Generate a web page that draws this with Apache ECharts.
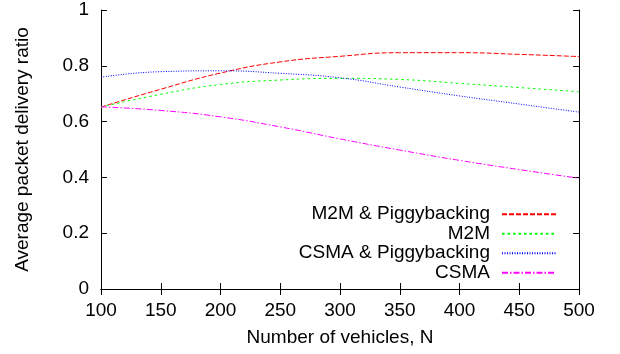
<!DOCTYPE html>
<html>
<head>
<meta charset="utf-8">
<script src="https://cdn.jsdelivr.net/npm/echarts@6/dist/echarts.min.js"></script>
<style>
  html, body { margin: 0; padding: 0; background: #fff; }
  #chart { width: 620px; height: 354px; }
</style>
</head>
<body>
<div id="chart"></div>
<script>
// Number of vehicles (x) and delivery ratio per scheme
const vehicles = [100, 150, 200, 250, 300, 350, 400, 450, 500];
const m2mPiggy  = [0.652, 0.716, 0.774, 0.814, 0.834, 0.847, 0.847, 0.841, 0.833];
const m2m       = [0.652, 0.698, 0.733, 0.749, 0.755, 0.751, 0.737, 0.722, 0.707];
const csmaPiggy = [0.759, 0.779, 0.782, 0.773, 0.757, 0.724, 0.692, 0.663, 0.634];
const csma      = [0.653, 0.640, 0.617, 0.581, 0.538, 0.498, 0.461, 0.428, 0.397];

const xTicks = { min: 100, max: 500, interval: 50 };
const yTicks = { min: 0, max: 1, interval: 0.2 };

const FONT = '"Liberation Sans", Arial, Helvetica, sans-serif';

function pairs(ys) { return vehicles.map((x, i) => [x, ys[i]]); }

function lineSeries(name, ys, color, dash) {
  return {
    name: name,
    type: 'line',
    data: pairs(ys),
    smooth: true,
    showSymbol: false,
    symbol: 'none',
    lineStyle: { color: color, width: 1, type: dash },
    itemStyle: { color: color },
    emphasis: { disabled: true },
    silent: true
  };
}

const axisLine = { show: true, lineStyle: { color: '#000', width: 1 } };
const ticks = { show: true, inside: true, length: 6, lineStyle: { color: '#000', width: 1 } };

const chart = echarts.init(document.getElementById('chart'), null, { renderer: 'canvas' });
chart.setOption({
  animation: false,
  backgroundColor: '#fff',
  grid: { left: 101, right: 41, top: 10, bottom: 65, containLabel: false },
  xAxis: [
    {
      type: 'value', position: 'bottom',
      min: xTicks.min, max: xTicks.max, interval: xTicks.interval,
      name: 'Number of vehicles, N', nameLocation: 'middle', nameGap: 39,
      nameTextStyle: { fontFamily: FONT, fontSize: 19, color: '#000' },
      axisLine: axisLine, axisTick: ticks,
      axisLabel: { fontFamily: FONT, fontSize: 19, color: '#000', margin: 12 },
      splitLine: { show: false }
    },
    {
      type: 'value', position: 'top',
      min: xTicks.min, max: xTicks.max, interval: xTicks.interval,
      axisLine: axisLine, axisTick: ticks,
      axisLabel: { show: false }, splitLine: { show: false }
    }
  ],
  yAxis: [
    {
      type: 'value', position: 'left',
      min: yTicks.min, max: yTicks.max, interval: yTicks.interval,
      name: 'Average packet delivery ratio', nameLocation: 'middle', nameGap: 69,
      nameTextStyle: { fontFamily: FONT, fontSize: 19, color: '#000' },
      axisLine: axisLine, axisTick: ticks,
      axisLabel: { fontFamily: FONT, fontSize: 19, color: '#000', margin: 12,
                   formatter: v => String(+v.toFixed(1)) },
      splitLine: { show: false }
    },
    {
      type: 'value', position: 'right',
      min: yTicks.min, max: yTicks.max, interval: yTicks.interval,
      axisLine: axisLine, axisTick: ticks,
      axisLabel: { show: false }, splitLine: { show: false }
    }
  ],
  legend: {
    orient: 'vertical',
    align: 'right',
    right: 63,
    top: 204.5,
    padding: 0,
    itemGap: 0,
    itemWidth: 54,
    itemHeight: 14,
    selectedMode: false,
    // line samples only, no marker on them
    itemStyle: { color: 'rgba(0,0,0,0)', borderWidth: 0, opacity: 0 },
    textStyle: { fontFamily: FONT, fontSize: 19, color: '#000', lineHeight: 19.5,
                 padding: [0, 7, 0, 0] },
    data: ['M2M & Piggybacking', 'M2M', 'CSMA & Piggybacking', 'CSMA']
  },
  series: [
    lineSeries('M2M & Piggybacking', m2mPiggy, '#ff0000', [5, 2]),
    lineSeries('M2M', m2m, '#00ff00', [2.5, 3]),
    lineSeries('CSMA & Piggybacking', csmaPiggy, '#0000ff', [1, 1.5]),
    lineSeries('CSMA', csma, '#ff00ff', [6, 2, 1.5, 2])
  ]
});
</script>
</body>
</html>
